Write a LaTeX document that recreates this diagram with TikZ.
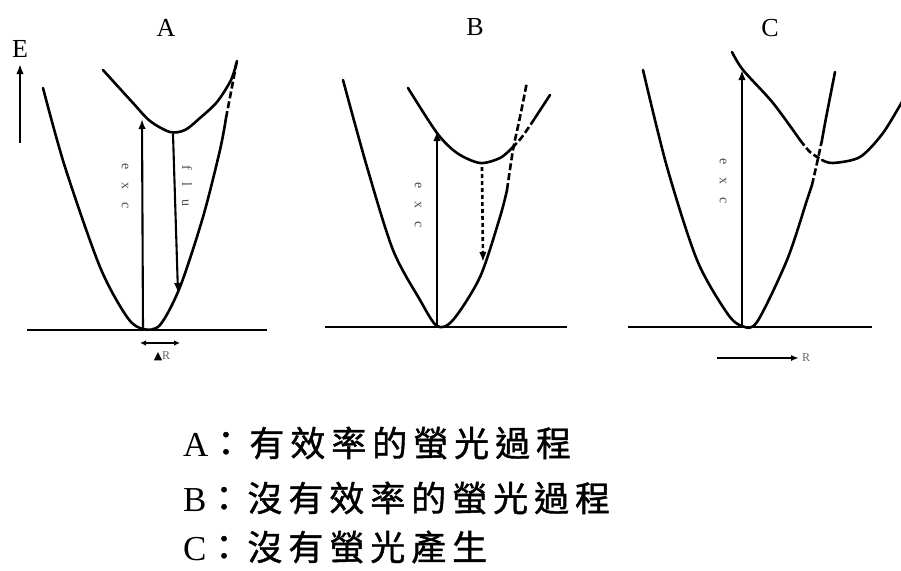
\documentclass[tikz,border=0pt]{standalone}
\usepackage{fontspec}
\setmainfont{Liberation Serif}
\newfontfamily\cjk[LetterSpace=17,FakeBold=1.2]{Noto Sans CJK TC}
\newfontfamily\symf{DejaVu Sans}
\usetikzlibrary{arrows.meta}
\tikzset{
  pot/.style={line width=2.6pt, line cap=round, line join=round},
  potdash/.style={pot, line cap=butt, dash pattern=on 7pt off 3pt},
  base/.style={line width=2.8pt},
  arr/.style={line width=2.1pt, -{Latex[length=10pt,width=7.5pt]}},
  dotarr/.style={line width=2.6pt, dash pattern=on 4pt off 3pt, -{Latex[length=10pt,width=7.5pt]}},
  title/.style={font=\fontsize{26}{26}\selectfont, inner sep=0pt},
  vlbl/.style={font=\fontsize{14}{14}\selectfont, text=black!70, rotate=-90, inner sep=0pt},
  legend/.style={font=\fontsize{35}{35}\selectfont, anchor=west, inner sep=0pt},
}
\newcommand{\vsp}{\hspace{13pt}}
\begin{document}
\begin{tikzpicture}[x=1pt,y=-1pt]
\useasboundingbox[fill=white] (0,0) rectangle (901,570);

% ---------------- Panel A ----------------
\node[title] (tA) at (166,28) {A};
\node[title] (tE) at (20,49) {E};
\coordinate (e0) at (20,143);
\coordinate (e1) at (20,64);
\draw[arr] (e0) -- (e1);

\coordinate (bA0) at (27,330);
\coordinate (bA1) at (267,330);
\draw[base] (bA0) -- (bA1);

\draw[pot] plot[smooth] coordinates {(43,88) (65,167) (100,267) (127,317) (143,329) (160,325) (180,287) (203,217) (220,150) (226,118)};
\draw[potdash] plot[smooth] coordinates {(226,118) (231,92) (237,60)};
\draw[pot] plot[smooth] coordinates {(103,70) (133,103) (150,121) (170,132) (185,130) (200,118) (217,102) (231,80) (237,61)};

\coordinate (xA0) at (143,330);
\coordinate (xA1) at (142,119);
\draw[arr] (xA0) -- (xA1);
\coordinate (fA0) at (173,134);
\coordinate (fA1) at (178,293);
\draw[arr] (fA0) -- (fA1);
\node[vlbl] (lexcA) at (125,186) {e\vsp x\vsp c};
\node[vlbl] (lfluA) at (187,186) {f\vsp l\vsp u};

\coordinate (dA0) at (140,343);
\coordinate (dA1) at (180,343);
\draw[line width=2pt, {Latex[length=6pt,width=5.5pt]}-{Latex[length=6pt,width=5.5pt]}] (dA0) -- (dA1);
\node[font=\fontsize{12}{12}\selectfont, inner sep=0pt] (dRA) at (162,356) {{\symf\fontsize{11}{11}\selectfont ▲}{\color{black!60}R}};

% ---------------- Panel B ----------------
\node[title] (tB) at (475,27) {B};
\coordinate (bB0) at (325,327);
\coordinate (bB1) at (567,327);
\draw[base] (bB0) -- (bB1);

\draw[pot] plot[smooth] coordinates {(343,80) (367,167) (393,250) (420,300) (437,326) (453,320) (480,277) (500,217) (507,190)};
\draw[potdash] plot[smooth] coordinates {(507,190) (513,150) (520,117) (527,82)};
\draw[pot] plot[smooth] coordinates {(408,88) (437,133) (457,153) (480,163) (500,158) (512,148)};
\draw[potdash] plot[smooth] coordinates {(512,148) (522,137) (535,118)};
\draw[pot] (535,118) -- (550,95);

\coordinate (xB0) at (437,327);
\coordinate (xB1) at (437,131);
\draw[arr] (xB0) -- (xB1);
\coordinate (fB0) at (482,167);
\coordinate (fB1) at (483,262);
\draw[dotarr] (fB0) -- (fB1);
\node[vlbl] (lexcB) at (418,205) {e\vsp x\vsp c};

% ---------------- Panel C ----------------
\node[title] (tC) at (770,28) {C};
\coordinate (bC0) at (628,327);
\coordinate (bC1) at (872,327);
\draw[base] (bC0) -- (bC1);

\draw[pot] plot[smooth] coordinates {(643,70) (667,167) (697,260) (727,313) (742,326) (757,322) (787,260) (807,200) (812,185)};
\draw[potdash] plot[smooth] coordinates {(812,185) (817,163) (822,140)};
\draw[pot] plot[smooth] coordinates {(822,140) (826,118) (835,72)};
\draw[pot] plot[smooth] coordinates {(732,52) (743,70) (773,103) (800,140)};
\draw[potdash] plot[smooth] coordinates {(800,140) (810,152) (822,160)};
\draw[pot] plot[smooth] coordinates {(822,160) (833,163) (860,157) (883,133) (903,100)};

\coordinate (xC0) at (742,327);
\coordinate (xC1) at (742,70);
\draw[arr] (xC0) -- (xC1);
\node[vlbl] (lexcC) at (723,181) {e\vsp x\vsp c};

\coordinate (rC0) at (717,358);
\coordinate (rC1) at (799,358);
\draw[line width=2pt, -{Latex[length=8pt,width=6pt]}] (rC0) -- (rC1);
\node[font=\fontsize{12}{12}\selectfont, text=black!60, anchor=west, inner sep=0pt] (rCl) at (802,358) {R};

% ---------------- Legend ----------------
\node[legend] (la) at (183,443) {A{\cjk ：有效率的螢光過程}};
\node[legend] (lb) at (183,498) {B{\cjk ：沒有效率的螢光過程}};
\node[legend] (lc) at (183,547) {C{\cjk ：沒有螢光產生}};
\end{tikzpicture}
\end{document}
